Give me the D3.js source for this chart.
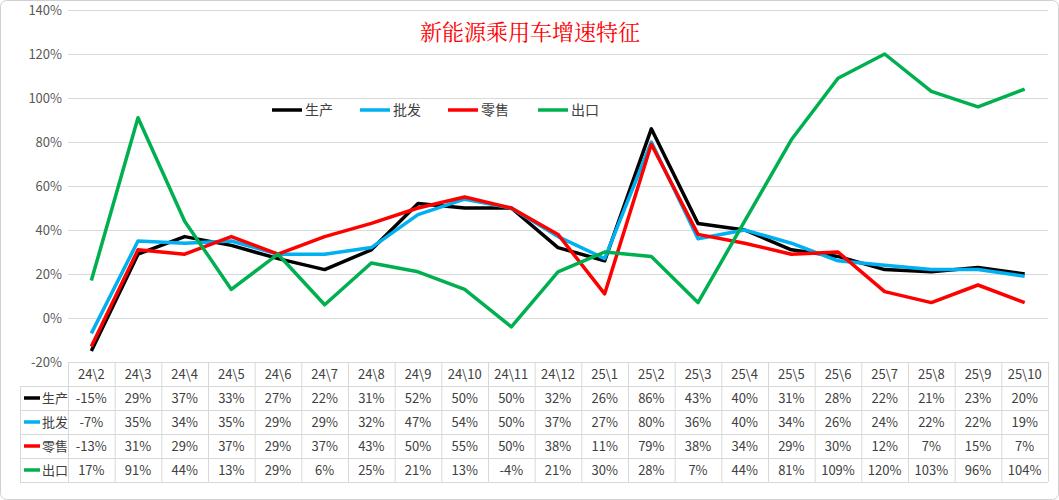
<!DOCTYPE html>
<html>
<head>
<meta charset="utf-8">
<script src="https://cdn.jsdelivr.net/npm/d3@7"></script>
<style>
  body { margin: 0; background: #fff; font-family: 'Noto Sans CJK SC', 'Liberation Sans', sans-serif; }
</style>
</head>
<body>
<div id="chart"></div>
<script>
// Data.
const categories = ['24\\2','24\\3','24\\4','24\\5','24\\6','24\\7','24\\8','24\\9','24\\10','24\\11','24\\12',
  '25\\1','25\\2','25\\3','25\\4','25\\5','25\\6','25\\7','25\\8','25\\9','25\\10'];
const production = [-15,29,37,33,27,22,31,52,50,50,32,26,86,43,40,31,28,22,21,23,20];
const wholesale  = [-7,35,34,35,29,29,32,47,54,50,37,27,80,36,40,34,26,24,22,22,19];
const retail     = [-13,31,29,37,29,37,43,50,55,50,38,11,79,38,34,29,30,12,7,15,7];
const exports    = [17,91,44,13,29,6,25,21,13,-4,21,30,28,7,44,81,109,120,103,96,104];
const seriesNames = ['生产','批发','零售','出口'];
const seriesColors = ['#000000','#00b0f0','#ff0000','#00b050'];
const yTicks = [-20,0,20,40,60,80,100,120,140];

const series = [production, wholesale, retail, exports];
const W = 1059, H = 500;
const plotLeft = 68, plotRight = 1048, plotTop = 10, plotBottom = 362;
const rowH = 24;

const svg = d3.select('#chart').append('svg').attr('width', W).attr('height', H);

svg.append('rect').attr('x', 0.5).attr('y', 0.5).attr('width', W - 1).attr('height', H - 1)
  .attr('rx', 6).attr('fill', 'none').attr('stroke', '#d0d0d0');

const x = d3.scaleBand().domain(categories).range([plotLeft, plotRight]);
const y = d3.scaleLinear().domain([-20, 140]).range([plotBottom, plotTop]);

// Gridlines
svg.append('g').selectAll('line').data(yTicks).join('line')
  .attr('x1', plotLeft).attr('x2', plotRight)
  .attr('y1', d => y(d) + 0.5).attr('y2', d => y(d) + 0.5)
  .attr('stroke', '#d9d9d9');

// Y axis labels
svg.append('g').selectAll('text').data(yTicks).join('text')
  .attr('x', plotLeft - 6).attr('y', d => y(d) + 5)
  .attr('text-anchor', 'end').attr('font-size', 13).attr('fill', '#595959')
  .text(d => d + '%');

// Lines
const line = d3.line().x((d, i) => x(categories[i]) + x.bandwidth() / 2).y(d => y(d));
series.forEach((s, k) => {
  svg.append('path').datum(s).attr('d', line)
    .attr('fill', 'none').attr('stroke', seriesColors[k]).attr('stroke-width', 3.5)
    .attr('stroke-linejoin', 'round');
});

// Title
svg.append('text').attr('x', 530).attr('y', 40).attr('text-anchor', 'middle')
  .attr('font-size', 22).attr('fill', '#ff0000')
  .attr('font-family', "'Noto Serif CJK SC','Noto Sans CJK SC',serif")
  .text('新能源乘用车增速特征');

// Legend
const legendX = [272, 360, 448, 538];
seriesNames.forEach((n, k) => {
  const g = svg.append('g').attr('transform', `translate(${legendX[k]},110)`);
  g.append('line').attr('x1', 0).attr('x2', 30).attr('stroke', seriesColors[k]).attr('stroke-width', 3.5);
  g.append('text').attr('x', 33).attr('y', 5).attr('font-size', 14).attr('fill', '#404040').text(n);
});

// Data table
const tableLeft = 20;
const tg = svg.append('g').attr('stroke', '#d9d9d9');
for (let r = 0; r <= 5; r++) {
  const yy = plotBottom + r * rowH + 0.5;
  tg.append('line').attr('x1', r === 0 ? plotLeft : tableLeft).attr('x2', plotRight).attr('y1', yy).attr('y2', yy);
}
tg.append('line').attr('x1', tableLeft + 0.5).attr('x2', tableLeft + 0.5).attr('y1', plotBottom + rowH).attr('y2', plotBottom + 5 * rowH);
categories.concat(['end']).forEach((c, i) => {
  const xx = (i < categories.length ? x(c) : plotRight) + 0.5;
  tg.append('line').attr('x1', xx).attr('x2', xx).attr('y1', plotBottom).attr('y2', plotBottom + 5 * rowH);
});

svg.append('g').selectAll('text').data(categories).join('text')
  .attr('x', d => x(d) + x.bandwidth() / 2).attr('y', plotBottom + 17)
  .attr('text-anchor', 'middle').attr('font-size', 13).attr('fill', '#404040').text(d => d);

series.forEach((s, k) => {
  const yy = plotBottom + (k + 1) * rowH;
  svg.append('line').attr('x1', tableLeft + 4).attr('x2', tableLeft + 20)
    .attr('y1', yy + 12).attr('y2', yy + 12).attr('stroke', seriesColors[k]).attr('stroke-width', 3.5);
  svg.append('text').attr('x', tableLeft + 22).attr('y', yy + 17).attr('font-size', 13)
    .attr('fill', '#404040').text(seriesNames[k]);
  svg.append('g').selectAll('text').data(s).join('text')
    .attr('x', (d, i) => x(categories[i]) + x.bandwidth() / 2).attr('y', yy + 17)
    .attr('text-anchor', 'middle').attr('font-size', 13).attr('fill', '#404040').text(d => d + '%');
});
</script>
</body>
</html>
